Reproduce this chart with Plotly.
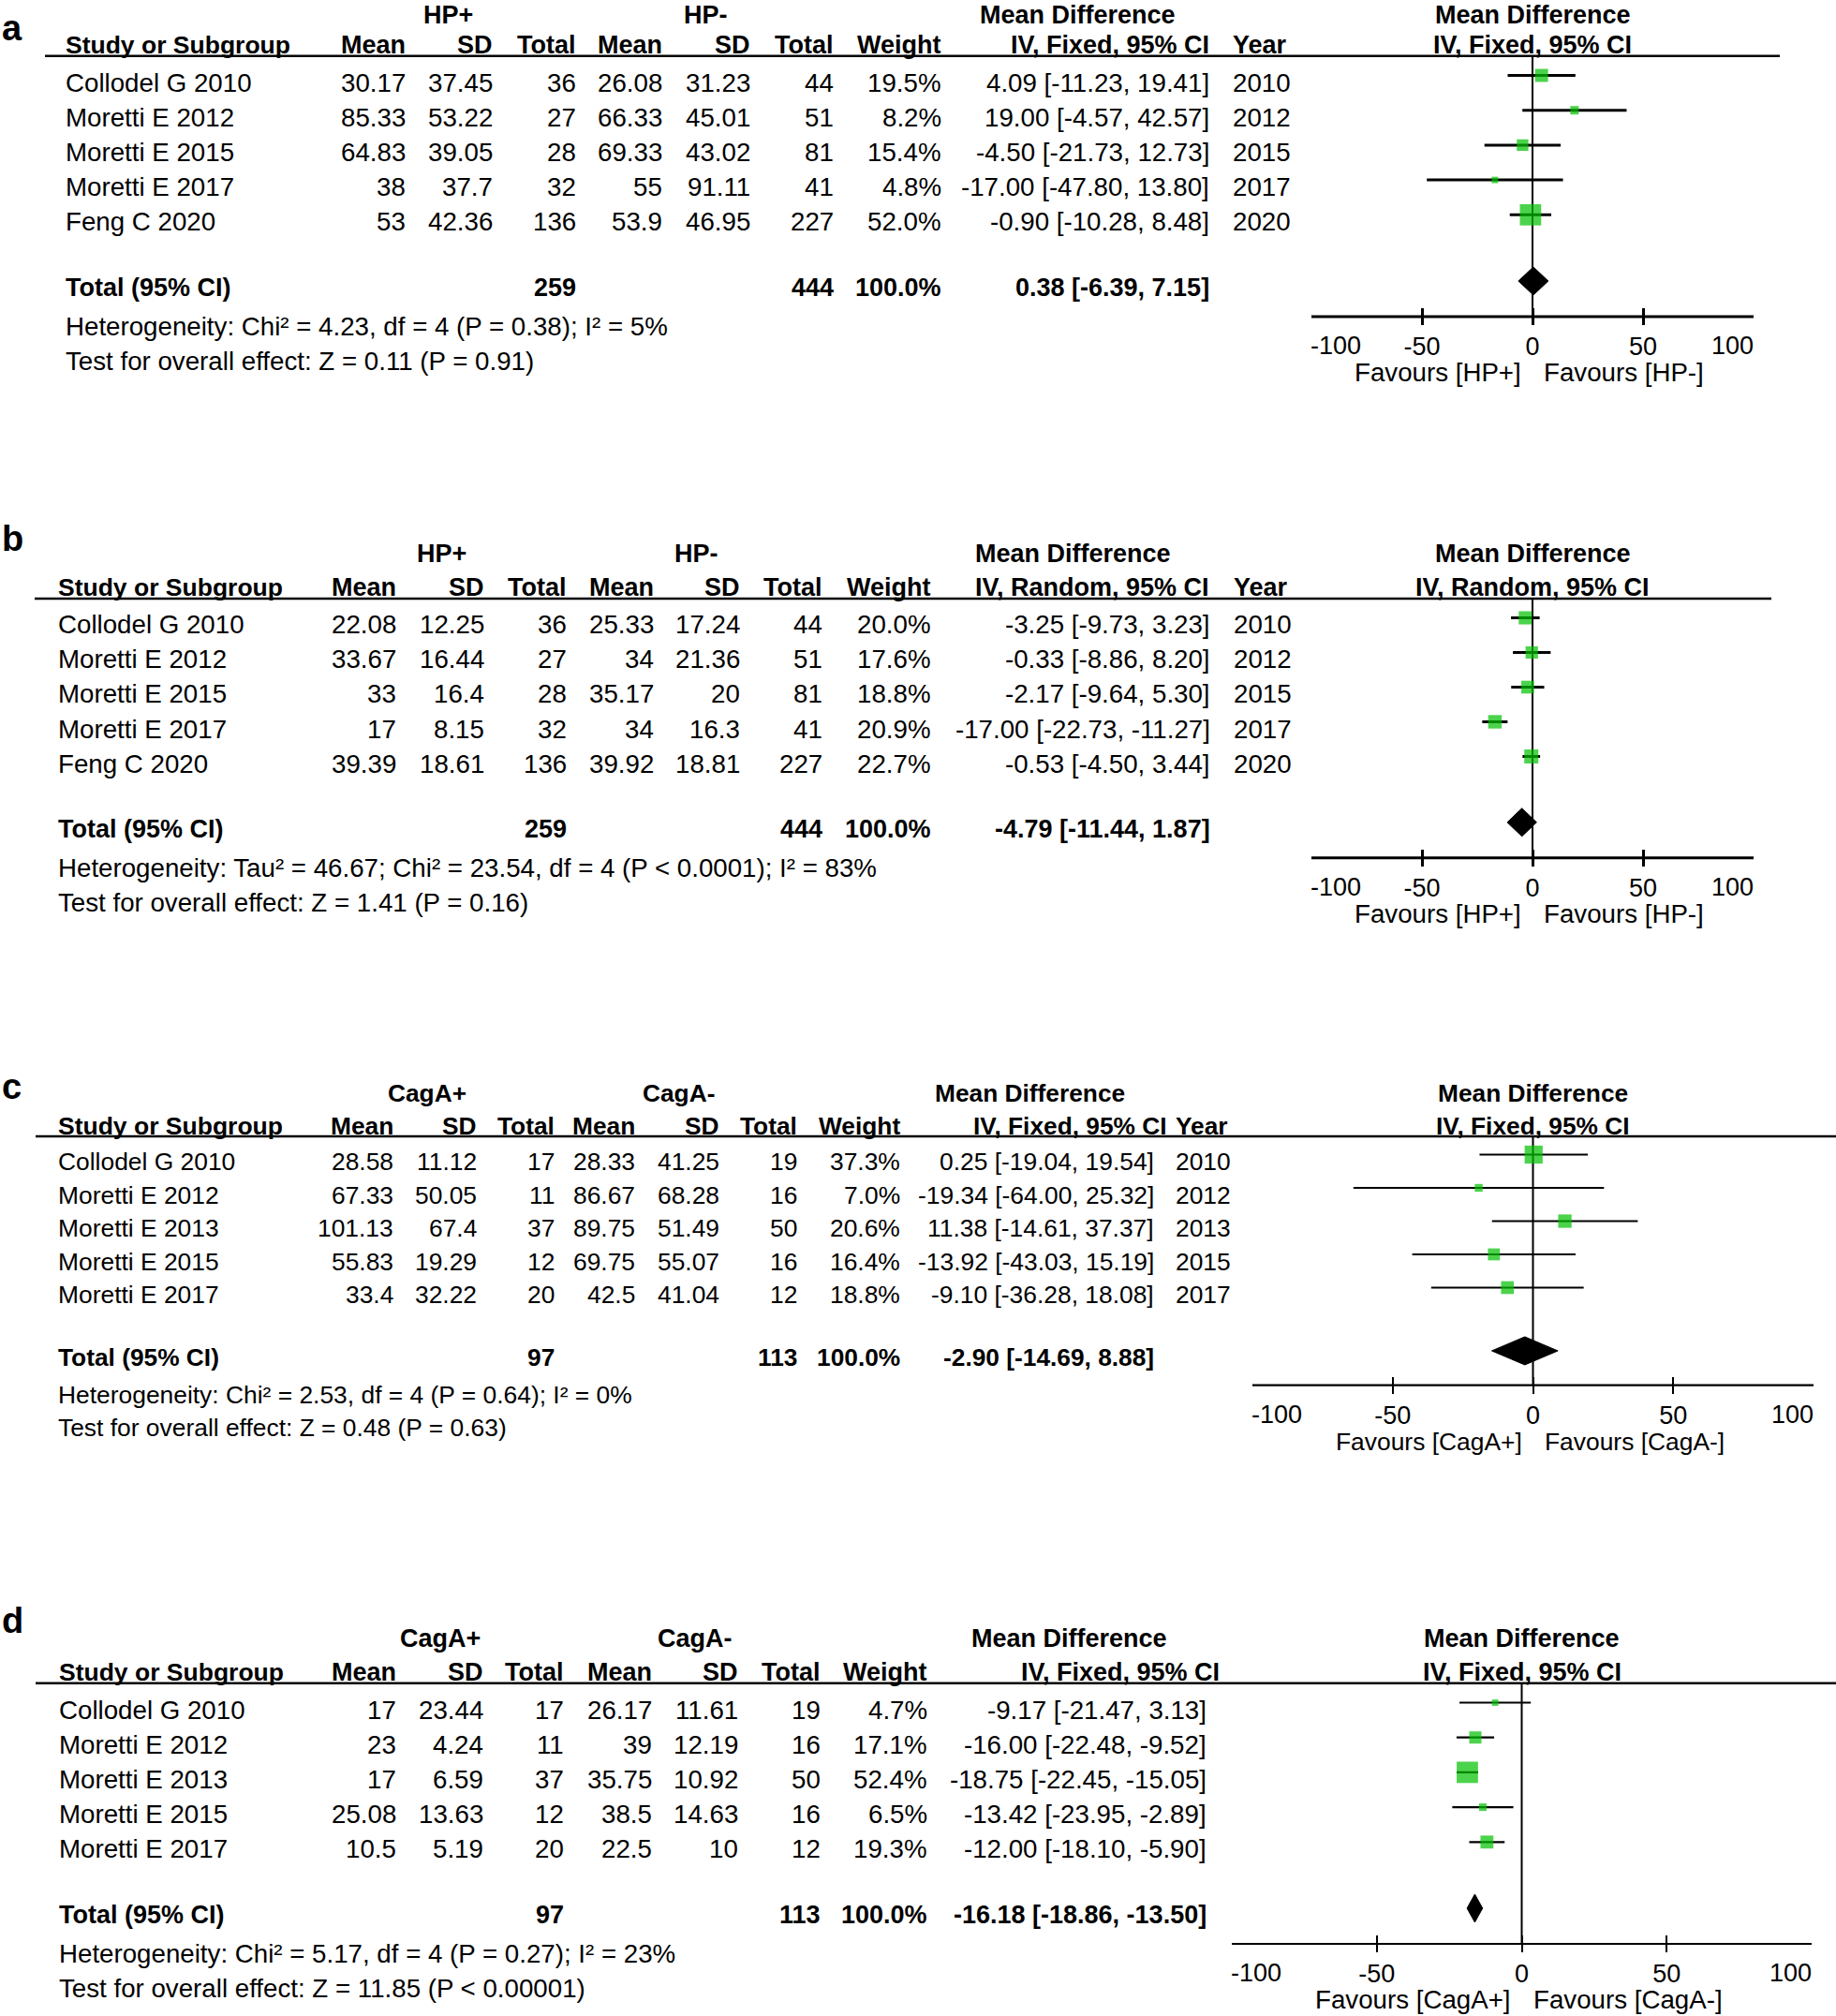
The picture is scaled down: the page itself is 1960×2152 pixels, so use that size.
import plotly.graph_objects as go

W, H = 1960, 2152
FONT = "Liberation Sans, Arial, sans-serif"
FST = 27.0     # tick labels
GREEN = "#00c000"

# ---------------- data ----------------
a_studies = ["Collodel G 2010", "Moretti E 2012", "Moretti E 2015", "Moretti E 2017", "Feng C 2020"]
a_mean1 = [30.17, 85.33, 64.83, 38, 53]
a_sd1 = [37.45, 53.22, 39.05, 37.7, 42.36]
a_n1 = [36, 27, 28, 32, 136]
a_mean2 = [26.08, 66.33, 69.33, 55, 53.9]
a_sd2 = [31.23, 45.01, 43.02, 91.11, 46.95]
a_n2 = [44, 51, 81, 41, 227]
a_weight = [19.5, 8.2, 15.4, 4.8, 52.0]
a_md = [4.09, 19.00, -4.50, -17.00, -0.90]
a_lo = [-11.23, -4.57, -21.73, -47.80, -10.28]
a_hi = [19.41, 42.57, 12.73, 13.80, 8.48]
a_year = [2010, 2012, 2015, 2017, 2020]
a_total_n = [259, 444]
a_total_weight = 100.0
a_total_ci = [0.38, -6.39, 7.15]
a_het = "Heterogeneity: Chi² = 4.23, df = 4 (P = 0.38); I² = 5%"
a_test = "Test for overall effect: Z = 0.11 (P = 0.91)"

b_studies = ["Collodel G 2010", "Moretti E 2012", "Moretti E 2015", "Moretti E 2017", "Feng C 2020"]
b_mean1 = [22.08, 33.67, 33, 17, 39.39]
b_sd1 = [12.25, 16.44, 16.4, 8.15, 18.61]
b_n1 = [36, 27, 28, 32, 136]
b_mean2 = [25.33, 34, 35.17, 34, 39.92]
b_sd2 = [17.24, 21.36, 20, 16.3, 18.81]
b_n2 = [44, 51, 81, 41, 227]
b_weight = [20.0, 17.6, 18.8, 20.9, 22.7]
b_md = [-3.25, -0.33, -2.17, -17.00, -0.53]
b_lo = [-9.73, -8.86, -9.64, -22.73, -4.50]
b_hi = [3.23, 8.20, 5.30, -11.27, 3.44]
b_year = [2010, 2012, 2015, 2017, 2020]
b_total_n = [259, 444]
b_total_weight = 100.0
b_total_ci = [-4.79, -11.44, 1.87]
b_het = "Heterogeneity: Tau² = 46.67; Chi² = 23.54, df = 4 (P < 0.0001); I² = 83%"
b_test = "Test for overall effect: Z = 1.41 (P = 0.16)"

c_studies = ["Collodel G 2010", "Moretti E 2012", "Moretti E 2013", "Moretti E 2015", "Moretti E 2017"]
c_mean1 = [28.58, 67.33, 101.13, 55.83, 33.4]
c_sd1 = [11.12, 50.05, 67.4, 19.29, 32.22]
c_n1 = [17, 11, 37, 12, 20]
c_mean2 = [28.33, 86.67, 89.75, 69.75, 42.5]
c_sd2 = [41.25, 68.28, 51.49, 55.07, 41.04]
c_n2 = [19, 16, 50, 16, 12]
c_weight = [37.3, 7.0, 20.6, 16.4, 18.8]
c_md = [0.25, -19.34, 11.38, -13.92, -9.10]
c_lo = [-19.04, -64.00, -14.61, -43.03, -36.28]
c_hi = [19.54, 25.32, 37.37, 15.19, 18.08]
c_year = [2010, 2012, 2013, 2015, 2017]
c_total_n = [97, 113]
c_total_weight = 100.0
c_total_ci = [-2.90, -14.69, 8.88]
c_het = "Heterogeneity: Chi² = 2.53, df = 4 (P = 0.64); I² = 0%"
c_test = "Test for overall effect: Z = 0.48 (P = 0.63)"

d_studies = ["Collodel G 2010", "Moretti E 2012", "Moretti E 2013", "Moretti E 2015", "Moretti E 2017"]
d_mean1 = [17, 23, 17, 25.08, 10.5]
d_sd1 = [23.44, 4.24, 6.59, 13.63, 5.19]
d_n1 = [17, 11, 37, 12, 20]
d_mean2 = [26.17, 39, 35.75, 38.5, 22.5]
d_sd2 = [11.61, 12.19, 10.92, 14.63, 10]
d_n2 = [19, 16, 50, 16, 12]
d_weight = [4.7, 17.1, 52.4, 6.5, 19.3]
d_md = [-9.17, -16.00, -18.75, -13.42, -12.00]
d_lo = [-21.47, -22.48, -22.45, -23.95, -18.10]
d_hi = [3.13, -9.52, -15.05, -2.89, -5.90]
d_year = None
d_total_n = [97, 113]
d_total_weight = 100.0
d_total_ci = [-16.18, -18.86, -13.50]
d_het = "Heterogeneity: Chi² = 5.17, df = 4 (P = 0.27); I² = 23%"
d_test = "Test for overall effect: Z = 11.85 (P < 0.00001)"

axis_ticks = [-100, -50, 0, 50, 100]
axis_ticktext = ["-100", "-50", "0", "50", "100"]
col_headers = ["Mean", "SD", "Total", "Mean", "SD", "Total", "Weight"]

panels = [
    dict(label="a", groups=("HP+", "HP-"), method="IV, Fixed, 95% CI", fav=("Favours [HP+]", "Favours [HP-]"),
         studies=a_studies, cols=(a_mean1, a_sd1, a_n1, a_mean2, a_sd2, a_n2), weight=a_weight,
         md=a_md, lo=a_lo, hi=a_hi, year=a_year, total_n=a_total_n, total_w=a_total_weight,
         total_ci=a_total_ci, het=a_het, test=a_test),
    dict(label="b", groups=("HP+", "HP-"), method="IV, Random, 95% CI", fav=("Favours [HP+]", "Favours [HP-]"),
         studies=b_studies, cols=(b_mean1, b_sd1, b_n1, b_mean2, b_sd2, b_n2), weight=b_weight,
         md=b_md, lo=b_lo, hi=b_hi, year=b_year, total_n=b_total_n, total_w=b_total_weight,
         total_ci=b_total_ci, het=b_het, test=b_test),
    dict(label="c", groups=("CagA+", "CagA-"), method="IV, Fixed, 95% CI", fav=("Favours [CagA+]", "Favours [CagA-]"),
         studies=c_studies, cols=(c_mean1, c_sd1, c_n1, c_mean2, c_sd2, c_n2), weight=c_weight,
         md=c_md, lo=c_lo, hi=c_hi, year=c_year, total_n=c_total_n, total_w=c_total_weight,
         total_ci=c_total_ci, het=c_het, test=c_test),
    dict(label="d", groups=("CagA+", "CagA-"), method="IV, Fixed, 95% CI", fav=("Favours [CagA+]", "Favours [CagA-]"),
         studies=d_studies, cols=(d_mean1, d_sd1, d_n1, d_mean2, d_sd2, d_n2), weight=d_weight,
         md=d_md, lo=d_lo, hi=d_hi, year=d_year, total_n=d_total_n, total_w=d_total_weight,
         total_ci=d_total_ci, het=d_het, test=d_test),
]

# ---------------- layout geometry (pixels) ----------------
geom = [
    dict(row0=88, sp=37.2, label_y=30, name_x=69, cols=[434, 527, 616, 708, 802, 891, 1006], ci_x=1292,
         ci_hdr_x=1292, year_x=1315, grp_x=(478, 753), md_x=1150, forest=(1400, 1872), line=(48, 1900),
         lw=3, fs=27.7, fsb=27.0),
    dict(row0=667, sp=37.0, label_y=575, name_x=61, cols=[424, 518, 606, 699, 791, 879, 995], ci_x=1293,
         ci_hdr_x=1292, year_x=1316, grp_x=(471, 743), md_x=1145, forest=(1400, 1872), line=(37, 1891),
         lw=3, fs=27.7, fsb=27.0),
    dict(row0=1240, sp=35.5, label_y=1160, name_x=61, cols=[421, 510, 593, 679, 769, 852, 962], ci_x=1233,
         ci_hdr_x=1247, year_x=1254, grp_x=(456, 724), md_x=1099, forest=(1337, 1936), line=(38, 1960),
         lw=2.2, fs=26.4, fsb=26.3),
    dict(row0=1825, sp=37.2, label_y=1730, name_x=62, cols=[424, 517, 603, 697, 789, 877, 991], ci_x=1289,
         ci_hdr_x=1303, year_x=None, grp_x=(470, 742), md_x=1141, forest=(1315, 1934), line=(38, 1960),
         lw=2.2, fs=27.7, fsb=27.0),
]
GROUP_ROW, HEAD_ROW, LINE_ROW = -2.05, -1.07, -0.76
TOTAL_ROW, HET_ROW, TEST_ROW = 5.9, 7.0, 8.0
AXIS_ROW = 6.72
MARK_SHIFT_PX = -7.5
TICK_HALF = 9
DIAMOND_HALF_PX = 15
TICKLABEL_OFFSET_PX = 31
FAV_OFFSET_PX = 60

def px(x):
    return x / W

def py(y):
    return 1 - y / H

def fmt(v):
    return f"{v:g}"

annotations = []
shapes = []
fig = go.Figure()


def txt(x, y, s, size, anchor="left", bold=False, xref="paper", xshift=0):
    half = size * 0.62
    yanchor = "middle"
    yy = py(y)
    if y - half < 0:       # keep the text box inside the page
        yanchor, yy = "top", 1.0
    annotations.append(dict(
        x=x if xref != "paper" else px(x), y=yy, xref=xref, yref="paper",
        text=f"<b>{s}</b>" if bold else s, showarrow=False, xanchor=anchor, yanchor=yanchor,
        xshift=xshift, borderpad=0, font=dict(size=size, color="black", family=FONT)))


layout_axes = {}
for k, (P, G) in enumerate(zip(panels, geom), start=1):
    r0, sp = G["row0"], G["sp"]
    fs, fsb = G["fs"], G["fsb"]
    rowy = lambda r: r0 + r * sp
    xname = "x" if k == 1 else f"x{k}"
    yname = "y" if k == 1 else f"y{k}"

    # panel label
    txt(1, G["label_y"], P["label"], 38, bold=True)
    # group headers
    txt(G["grp_x"][0], rowy(GROUP_ROW), P["groups"][0], fsb, anchor="center", bold=True)
    txt(G["grp_x"][1], rowy(GROUP_ROW), P["groups"][1], fsb, anchor="center", bold=True)
    txt(G["md_x"], rowy(GROUP_ROW), "Mean Difference", fsb, anchor="center", bold=True)
    txt(0, rowy(GROUP_ROW), "Mean Difference", fsb, anchor="center", bold=True, xref=xname)
    # column headers
    txt(G["name_x"], rowy(HEAD_ROW), "Study or Subgroup", 26.5, bold=True)
    for cx, h in zip(G["cols"], col_headers):
        txt(cx, rowy(HEAD_ROW), h, fsb, anchor="right", bold=True)
    txt(G["ci_hdr_x"], rowy(HEAD_ROW), P["method"], fsb, anchor="right", bold=True)
    if G["year_x"] is not None:
        txt(G["year_x"], rowy(HEAD_ROW), "Year", fsb, bold=True)
    txt(0, rowy(HEAD_ROW), P["method"], fsb, anchor="center", bold=True, xref=xname)
    # header rule
    shapes.append(dict(type="line", xref="paper", yref="paper", x0=px(G["line"][0]), x1=px(G["line"][1]),
                       y0=py(rowy(LINE_ROW)), y1=py(rowy(LINE_ROW)), line=dict(color="black", width=2.5)))
    # study rows
    for i, name in enumerate(P["studies"]):
        y = rowy(i)
        txt(G["name_x"], y, name, fs)
        for cx, col in zip(G["cols"][:6], P["cols"]):
            txt(cx, y, fmt(col[i]), fs, anchor="right")
        txt(G["cols"][6], y, f"{P['weight'][i]:.1f}%", fs, anchor="right")
        txt(G["ci_x"], y, f"{P['md'][i]:.2f} [{P['lo'][i]:.2f}, {P['hi'][i]:.2f}]", fs, anchor="right")
        if P["year"] is not None:
            txt(G["year_x"], y, str(P["year"][i]), fs)
    # totals
    yt = rowy(TOTAL_ROW)
    txt(G["name_x"], yt, "Total (95% CI)", fsb, bold=True)
    txt(G["cols"][2], yt, str(P["total_n"][0]), fsb, anchor="right", bold=True)
    txt(G["cols"][5], yt, str(P["total_n"][1]), fsb, anchor="right", bold=True)
    txt(G["cols"][6], yt, f"{P['total_w']:.1f}%", fsb, anchor="right", bold=True)
    tm, tl, th = P["total_ci"]
    txt(G["ci_x"], yt, f"{tm:.2f} [{tl:.2f}, {th:.2f}]", fsb, anchor="right", bold=True)
    txt(G["name_x"], rowy(HET_ROW), P["het"], fs)
    txt(G["name_x"], rowy(TEST_ROW), P["test"], fs)

    # ---- forest plot axes ----
    axis_px = rowy(AXIS_ROW)
    bottom_px = axis_px + TICK_HALF
    top_px = rowy(LINE_ROW)
    inner_text = ["" if j in (0, len(axis_ticks) - 1) else t for j, t in enumerate(axis_ticktext)]
    layout_axes["xaxis" if k == 1 else f"xaxis{k}"] = dict(
        domain=[px(G["forest"][0]), px(G["forest"][1])], range=[axis_ticks[0], axis_ticks[-1]],
        anchor=yname, tickvals=axis_ticks, ticktext=inner_text, ticks="inside", ticklen=2 * TICK_HALF,
        tickwidth=G["lw"], tickcolor="black", showline=False, showgrid=False, zeroline=False,
        tickfont=dict(size=FST, color="black", family=FONT), ticklabelstandoff=4, fixedrange=True,
        automargin=False)
    layout_axes["yaxis" if k == 1 else f"yaxis{k}"] = dict(
        domain=[py(bottom_px), py(top_px)], range=[AXIS_ROW + TICK_HALF / sp, LINE_ROW],
        anchor=xname, visible=False, showgrid=False, zeroline=False, fixedrange=True, automargin=False)
    # end tick labels kept inside the axis extent
    txt(axis_ticks[0], axis_px + TICKLABEL_OFFSET_PX, axis_ticktext[0], FST, anchor="left", xref=xname,
        xshift=-2)
    txt(axis_ticks[-1], axis_px + TICKLABEL_OFFSET_PX, axis_ticktext[-1], FST, anchor="right", xref=xname,
        xshift=1)

    shift = MARK_SHIFT_PX / sp
    # axis line
    shapes.append(dict(type="line", xref=xname, yref=yname, x0=axis_ticks[0], x1=axis_ticks[-1],
                       y0=AXIS_ROW, y1=AXIS_ROW, line=dict(color="black", width=G["lw"])))
    # null line
    shapes.append(dict(type="line", xref=xname, yref=yname, x0=0, x1=0, y0=LINE_ROW, y1=AXIS_ROW,
                       line=dict(color="black", width=2), layer="below"))
    # studies
    n = len(P["md"])
    fig.add_trace(go.Scatter(
        x=P["md"], y=[i + shift for i in range(n)], xaxis=xname, yaxis=yname, mode="markers",
        marker=dict(symbol="square", size=[3.15 * w ** 0.5 for w in P["weight"]], color=GREEN,
                    line=dict(width=0)),
        error_x=dict(type="data", symmetric=False,
                     array=[h - m for h, m in zip(P["hi"], P["md"])],
                     arrayminus=[m - l for m, l in zip(P["md"], P["lo"])],
                     width=0, thickness=G["lw"], color="black"),
        showlegend=False, hoverinfo="skip", cliponaxis=False))
    # diamond
    dh = DIAMOND_HALF_PX / sp
    dr = TOTAL_ROW + shift
    fig.add_trace(go.Scatter(
        x=[tl, tm, th, tm, tl], y=[dr, dr - dh, dr, dr + dh, dr], xaxis=xname, yaxis=yname,
        mode="lines", fill="toself", fillcolor="black", line=dict(color="black", width=1),
        showlegend=False, hoverinfo="skip"))
    # favours labels
    fav_y = axis_px + FAV_OFFSET_PX
    txt(0, fav_y, P["fav"][0], fs, anchor="right", xref=xname, xshift=-11)
    txt(0, fav_y, P["fav"][1], fs, anchor="left", xref=xname, xshift=11)

fig.update_layout(
    width=W, height=H, margin=dict(l=0, r=0, t=0, b=0, pad=0), autosize=False,
    paper_bgcolor="white", plot_bgcolor="rgba(0,0,0,0)",
    font=dict(family=FONT, size=27, color="black"),
    annotations=annotations, shapes=shapes, showlegend=False, **layout_axes)

fig.write_html(
    "out.html", config={"responsive": False, "displayModeBar": False},
    post_script="document.body.style.margin='0';document.body.style.padding='0';"
                "document.body.style.overflow='hidden';")
